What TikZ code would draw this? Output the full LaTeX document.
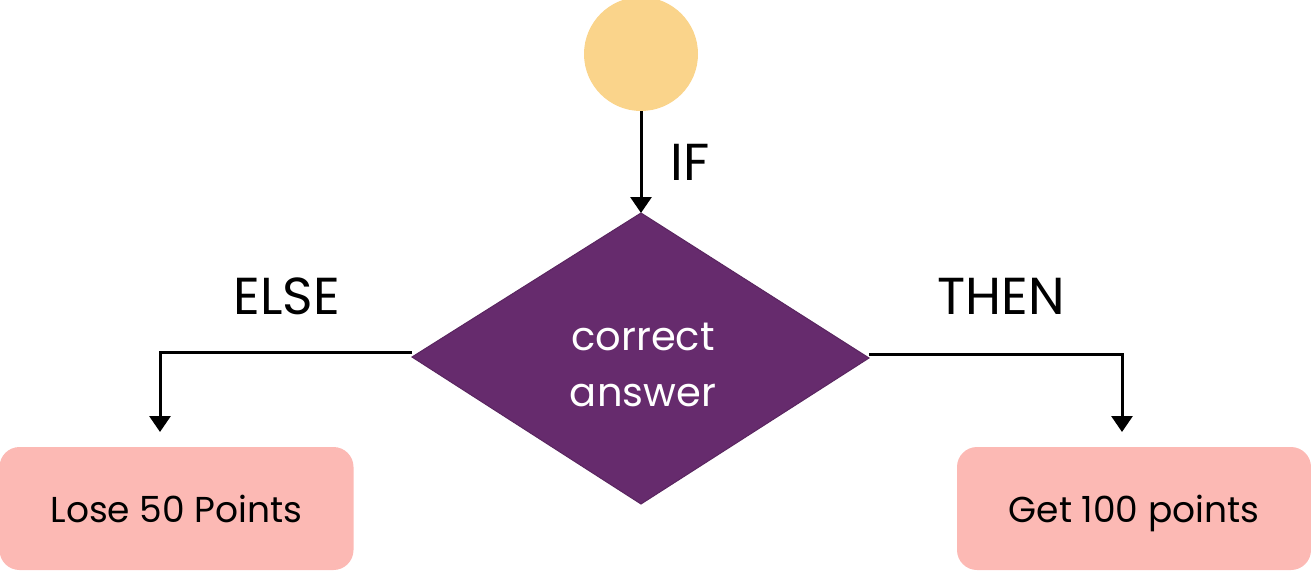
\documentclass[tikz,border=0pt]{standalone}
\usepackage{fontspec}
\setmainfont{Poppins}
\usetikzlibrary{shapes.geometric,arrows.meta}
\definecolor{startc}{HTML}{FAD48B}
\definecolor{decc}{HTML}{662B6D}
\definecolor{decb}{HTML}{5A2560}
\definecolor{boxc}{HTML}{FCB9B4}
\tikzset{
  conn/.style={line width=3pt, -{Triangle[width=21pt,length=16pt]}},
  lbl/.style={font=\fontsize{52}{56}\selectfont, inner sep=0pt},
  result/.style={fill=boxc, rounded corners=20pt, minimum width=354pt, minimum height=123pt, font=\fontsize{36}{40}\selectfont, inner sep=0pt, text depth=0pt},
}
\begin{document}
\begin{tikzpicture}[x=1pt,y=-1pt]
\useasboundingbox (0,0) rectangle (1311,570);
\node[circle, fill=startc, minimum size=114pt, inner sep=0pt] (start) at (641,54) {};
\coordinate (dtop) at (641,213);
\coordinate (dbot) at (641,504);
\coordinate (dl) at (412,357);
\coordinate (dr) at (869,358);
\filldraw[fill=decc, draw=decb, line width=1pt] (dtop) -- (dr) -- (dbot) -- (dl) -- cycle;
\node[text=white, align=center, font=\fontsize{40}{56}\selectfont, inner sep=0pt] (dec) at (643,365) {correct\\answer};
\node[result] (lose) at (176.5,508.5) {Lose 50 Points};
\node[result] (get) at (1134,508.5) {Get 100 points};
\coordinate (lc) at (160,352);
\coordinate (rc) at (1122,354);
\draw[conn] (start.south) -- (dtop);
\draw[conn] (412,352) -- (lc) -- (lc |- 0,432);
\draw[conn] (869,354) -- (rc) -- (rc |- 0,432);
\node[lbl, anchor=west] (if) at (670,162) {IF};
\node[lbl] (else) at (287,296) {ELSE};
\node[lbl] (then) at (1001,296) {THEN};
\end{tikzpicture}
\end{document}
